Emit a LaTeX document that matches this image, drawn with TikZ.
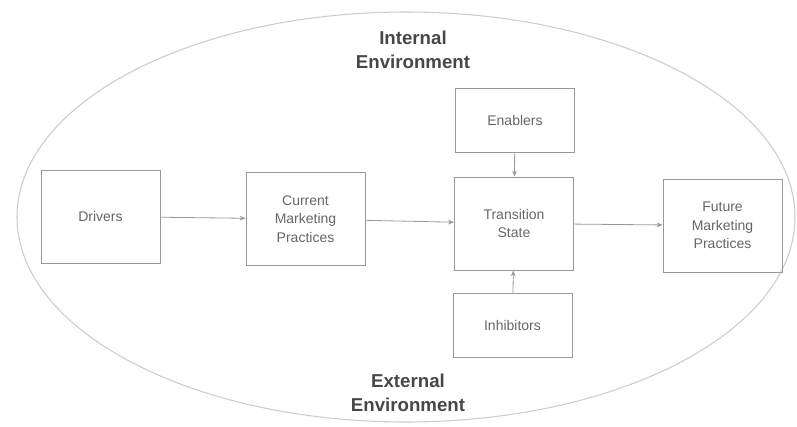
\documentclass[tikz,border=0pt]{standalone}
\usepackage{fontspec}
\setmainfont{Liberation Sans}
\usetikzlibrary{arrows.meta}
\definecolor{boxline}{gray}{0.6}
\definecolor{boxtext}{gray}{0.4}
\definecolor{envtext}{gray}{0.28}
\definecolor{ringline}{gray}{0.8}

\begin{document}
\begin{tikzpicture}[x=0.75pt,y=-0.75pt,
  box/.style={draw=boxline, line width=0.6pt, minimum width=89.25pt, minimum height=69.75pt,
    align=center, inner sep=2pt, text=boxtext, font=\fontsize{10.5}{14}\selectfont},
  flatbox/.style={box, minimum height=48pt},
  envlabel/.style={align=center, text=envtext, font=\fontsize{14}{18}\selectfont\bfseries},
  link/.style={draw=boxline, line width=0.6pt, -{Stealth[length=4.5pt,width=3.5pt]}}]
\useasboundingbox (0,0) rectangle (797,426);
\draw[ringline, line width=0.8pt] (406,217) ellipse [x radius=291.75pt, y radius=153.75pt];
\node[envlabel] (internal) at (413,50) {Internal\\Environment};
\node[envlabel] (external) at (408,393) {External\\Environment};
\node[box] (drivers) at (100.5,216.5) {Drivers};
\node[box] (current) at (305.5,219) {Current\\Marketing\\Practices};
\node[flatbox] (enablers) at (515,120) {Enablers};
\node[box] (transition) at (514,223.5) {Transition\\State};
\node[flatbox] (inhibitors) at (512.5,325) {Inhibitors};
\node[box] (future) at (722.5,225.5) {Future\\Marketing\\Practices};
\draw[link] (drivers) -- (current);
\draw[link] (current) -- (transition);
\draw[link] (transition) -- (future);
\draw[link] (enablers) -- (transition);
\draw[link] (inhibitors) -- (transition);
\end{tikzpicture}
\end{document}
